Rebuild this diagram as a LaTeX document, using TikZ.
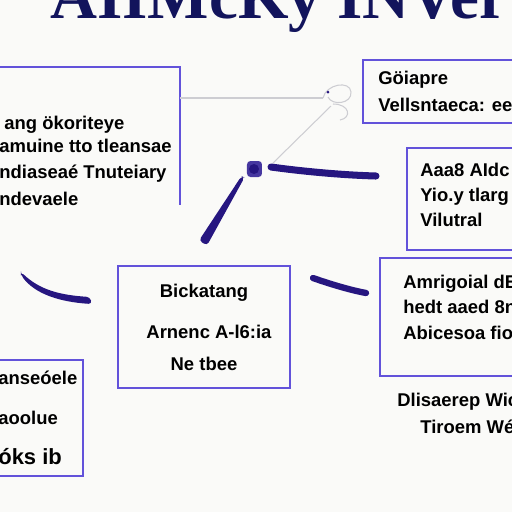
\documentclass[tikz,border=0pt]{standalone}
\usepackage{fontspec}
\setmainfont{Liberation Sans}
\newfontfamily\titlefont{Liberation Serif}
\usepackage{tikz}
\definecolor{dnavy}{RGB}{38,22,128}
\definecolor{dtitle}{RGB}{18,20,92}
\definecolor{dbox}{RGB}{98,82,218}
\definecolor{dgray}{RGB}{205,205,210}
\definecolor{dpaper}{RGB}{250,250,248}
\definecolor{dblob}{RGB}{70,55,160}

\begin{document}
\begin{tikzpicture}[x=0.02cm,y=-0.02cm,
    boxline/.style={dbox, line width=1.2pt},
    txt/.style={font=\bfseries\fontsize{10.5}{12}\selectfont, anchor=base west, inner sep=0pt},
    ctxt/.style={txt, anchor=base},
    thinline/.style={dgray, line width=0.6pt},
    stroke/.style={dnavy, line width=4pt, line cap=round}]
  % Frame
  \fill[dpaper] (0,0) rectangle (512,512);
  \useasboundingbox (0,0) rectangle (512,512);
  \clip (0,0) rectangle (512,512);
  % Title
  \node[dtitle, font=\titlefont\bfseries\fontsize{37}{40}\selectfont, anchor=base west, inner sep=0pt] (title) at (50,18) {AIIMcKy INVer};
  % Boxes
  \draw[boxline] (-10,67) -- (180,67) -- (180,205);
  \draw[boxline] (520,60) -- (363,60) -- (363,123) -- (520,123);
  \draw[boxline] (520,148) -- (407,148) -- (407,250) -- (520,250);
  \draw[boxline] (520,258) -- (380,258) -- (380,376) -- (520,376);
  \draw[boxline] (118,266) rectangle (290,388);
  \draw[boxline] (-10,360) -- (83,360) -- (83,476) -- (-10,476);
  % Box texts
  \node[txt] (a1) at (4,129) {ang ökoriteye};
  \node[txt] (a2) at (-1,152) {amuine tto tleansae};
  \node[txt] (a3) at (-1,178) {ndiaseaé Tnuteiary};
  \node[txt] (a4) at (-1,205) {ndevaele};
  \node[txt] (b1) at (378,84) {Göiapre};
  \node[txt] (b2) at (378,111) {Vellsntaeca: ee};
  \node[txt] (c1) at (420,176) {Aaa8 AIdc};
  \node[txt] (c2) at (420,201) {Yio.y tlarg};
  \node[txt] (c3) at (420,226) {Vilutral};
  \node[txt] (d1) at (403,288) {Amrigoial dEl};
  \node[txt] (d2) at (403,313) {hedt aaed 8n};
  \node[txt] (d3) at (403,339) {Abicesoa fio};
  \node[txt] (e1) at (397,406) {Dlisaerep Wico};
  \node[txt] (e2) at (420,433) {Tiroem Wé};
  \node[ctxt] (m1) at (204,297) {Bickatang};
  \node[ctxt] (m2) at (209,338) {Arnenc A-l6:ia};
  \node[ctxt] (m3) at (204,370) {Ne tbee};
  \node[txt] (f1) at (-2,384) {anseóele};
  \node[txt] (f2) at (-2,424) {aoolue};
  \node[txt, font=\bfseries\fontsize{12.5}{14}\selectfont] (f3) at (-2,464) {óks ib};
  % Thin connectors
  \coordinate (hook) at (323,98);
  \coordinate (knot) at (255,168);
  \draw[thinline] (180,98) -- (hook);
  \draw[thinline] (hook) .. controls (326,84) and (350,80) .. (351,92) .. controls (352,104) and (332,106) .. (328,97);
  \draw[thinline] (333,104) .. controls (350,104) and (352,118) .. (340,120);
  \draw[thinline] (331,106) -- (273,163);
  \fill[dnavy] (328,92) circle (1.5);
  % Blob
  \fill[dblob, rounded corners=2] (247,161) rectangle (262,177);
  \fill[dnavy] (254,169) circle (5);
  % Thick strokes
  \draw[stroke] (271,167) .. controls (300,171) and (340,175) .. (376,176);
  \fill[dnavy, rounded corners=2] (244.5,177.5) -- (207,245.5) -- (199,240.5) -- (241.5,176) -- cycle;
  \fill[dnavy, rounded corners=2] (21,272) .. controls (40,290) and (60,295) .. (90,297) -- (92,304) .. controls (60,302) and (35,294) .. (21,275) -- cycle;
  \draw[stroke, line width=3.6pt] (313,278) .. controls (330,284) and (350,290) .. (366,293);
\end{tikzpicture}
\end{document}
